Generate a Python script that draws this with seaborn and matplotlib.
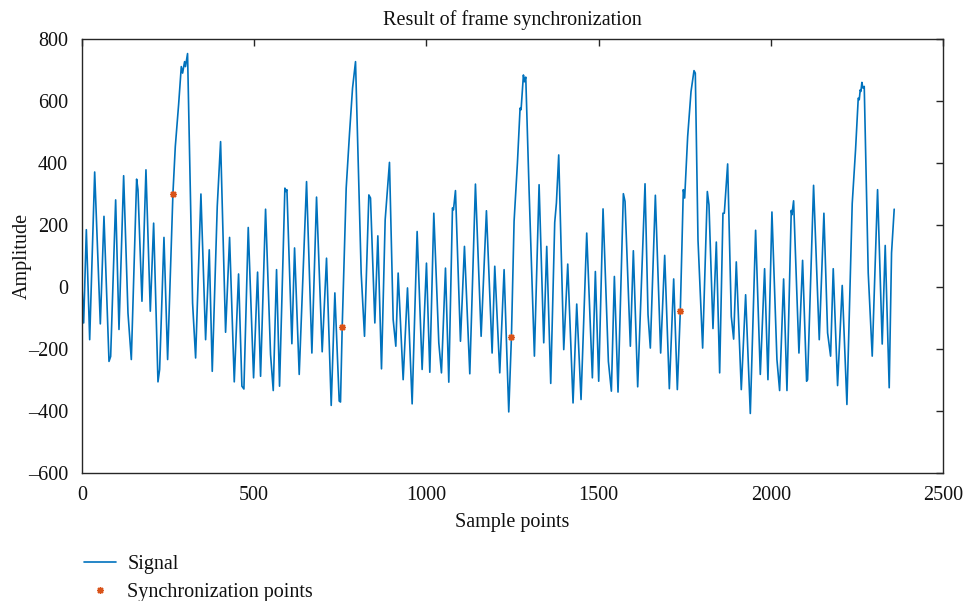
import matplotlib
matplotlib.use("Agg")
import matplotlib.pyplot as plt
import seaborn as sns
import pandas as pd

# ---- data (extrema and shoulders of the signal) ----
sig_x = [0, 4.8, 12.6, 22.3, 36.8, 53.2, 63.8, 78.4, 83.2, 97.7, 107.4, 120.9, 133.5, 143.2,
         158.6, 162.5, 174.1, 185.7, 198.3, 208, 220.6, 225.4, 238, 248.6, 264, 270.9, 280.5,
         288.3, 292.1, 297.9, 300.5, 306.5, 321.1, 329.9, 345.3, 358.9, 369.5, 378.2, 392.7,
         402.4, 416.9, 428.5, 442.1, 454.6, 464.3, 470.1, 482.7, 498.2, 509.8, 518.5, 533,
         547.5, 555.3, 564.9, 573.6, 589.1, 592, 595, 609.4, 617.2, 630.7, 652, 667.5, 681,
         697.4, 710, 723.6, 734.2, 746.8, 750.6, 755.5, 767.1, 776.8, 785.5, 794.2, 810.6,
         820.3, 832.9, 837.7, 850.3, 859, 869.6, 880.3, 892.8, 903.5, 911.2, 918, 932.5,
         945.1, 958.6, 973.1, 987.6, 1000.2, 1009.9, 1021.5, 1036, 1043.7, 1055.4, 1065,
         1075.7, 1078.6, 1084.4, 1098.9, 1110.5, 1126, 1142.4, 1158.9, 1174.3, 1190.8,
         1198.5, 1213, 1225.6, 1239.1, 1246.9, 1254.6, 1264.3, 1272, 1274.9, 1281.7, 1284.6,
         1288.5, 1298.1, 1313.6, 1327.2, 1340.7, 1349.4, 1361, 1372.6, 1377.5, 1384.2,
         1398.8, 1410.4, 1425.8, 1436.5, 1449, 1465.5, 1481.9, 1490.6, 1500.3, 1512.9,
         1528.4, 1537.1, 1545.8, 1556.4, 1571.9, 1576.7, 1592.2, 1600.9, 1613.5, 1634.8,
         1643.5, 1650.2, 1664.8, 1680.2, 1691.9, 1705.4, 1718, 1728.6, 1737.3, 1746, 1749.9,
         1758.6, 1768.3, 1777, 1780.8, 1788.6, 1802.1, 1815.7, 1820.5, 1832.1, 1841.8,
         1851.5, 1861.1, 1865, 1874.7, 1885.3, 1892.1, 1899.8, 1914.3, 1926.9, 1940.5,
         1955.9, 1969.5, 1982, 1991.7, 2003.3, 2017.8, 2025.6, 2037.2, 2046.9, 2059.4,
         2061.4, 2066.2, 2081.7, 2092.3, 2103.9, 2106.8, 2124.2, 2140.7, 2154.2, 2164.9,
         2173.6, 2181.3, 2193.9, 2207.4, 2221, 2236.4, 2246.1, 2253.9, 2256.8, 2259.7,
         2261.6, 2264.5, 2267.4, 2271.3, 2282.9, 2294.5, 2310, 2323.5, 2332.2, 2343.8,
         2350.6, 2358.3]
sig_y = [0, -116, 185, -170, 371, -119, 228, -240, -224, 281, -137, 359, -84, -234,
         348, 314, -46, 378, -78, 206, -306, -266, 160, -234, 301, 453, 588,
         711, 690, 727, 711, 753, -52, -229, 300, -170, 120, -272, 260,
         469, -146, 160, -306, 42, -320, -329, 192, -293, 48, -288, 251,
         -218, -334, 56, -320, 319, 308, 314, -183, 126, -282, 340, -213, 290,
         -209, 93, -382, -19, -368, -371, -130, 319, 496, 641, 727, 45,
         -159, 297, 287, -116, 165, -264, 217, 402, -105, -191, 45, -299,
         -3, -377, 179, -266, 77, -275, 238, -180, -277, 61, -307,
         255, 249, 311, -175, 131, -280, 332, -159, 246, -213,
         67, -277, 56, -403, -161, 212, 400, 577, 572, 684, 662,
         677, 314, -223, 330, -180, 131, -311, 208, 271, 426,
         -202, 74, -374, -55, -363, 174, -293, 50, -304, 252,
         -240, -336, 34, -339, 301, 276, -191, 117, -322, 333,
         -89, -197, 296, -213, 102, -328, 26, -331, -76, 314, 287,
         485, 630, 698, 690, 152, -197, 308, 265, -134, 145,
         -277, 238, 238, 397, -95, -168, 81, -331, -25, -408,
         183, -282, 59, -299, 242, -234, -334, 26, -334, 247,
         233, 278, -213, 86, -304, -299, 328, -170, 238, -148,
         -223, 59, -318, 5, -379, 269, 443, 609, 604, 636,
         631, 660, 642, 647, 45, -223, 314, -184, 134, -325,
         110, 251]

sync_x = [264, 755.5, 1247, 1737.3]
sync_y = [301, -130, -161, -76]

x_ticks = [0, 500, 1000, 1500, 2000, 2500]
y_ticks = [-600, -400, -200, 0, 200, 400, 600, 800]

title_text = "Result of frame synchronization"
x_label = "Sample points"
y_label = "Amplitude"
legend_labels = ["Signal", "Synchronization points"]

# ---- styling ----
sns.set_style("white")
plt.rcParams["font.family"] = ["Liberation Serif", "DejaVu Serif"]
plt.rcParams["axes.edgecolor"] = "#262626"
plt.rcParams["axes.linewidth"] = 1.0

sig_df = pd.DataFrame({"x": sig_x, "y": sig_y})
sync_df = pd.DataFrame({"x": sync_x, "y": sync_y})

fig = plt.figure(figsize=(9.66, 6.01), dpi=100)
ax = fig.add_axes([82 / 966, 1 - 473 / 601, (943 - 82) / 966, (473 - 39) / 601])

sns.lineplot(data=sig_df, x="x", y="y", ax=ax, color="#0072BD", linewidth=1.2,
             sort=False, estimator=None, label=legend_labels[0])
ax.plot(sync_df["x"], sync_df["y"], linestyle="none", marker=(8, 2, 0), color="#D95319",
        markersize=5, markeredgewidth=1.0, label=legend_labels[1])

ax.set_xlim(0, 2500)
ax.set_ylim(-600, 800)
ax.set_xticks(x_ticks)
ax.set_yticks(y_ticks)
ax.set_xticklabels([str(t) for t in x_ticks])
ax.set_yticklabels(["\u2013" + str(-t) if t < 0 else str(t) for t in y_ticks])
ax.tick_params(direction="in", length=5, width=1, top=True, right=True,
               labelsize=14.5, colors="#262626", labelcolor="#111111")
ax.tick_params(axis="y", pad=10)
ax.tick_params(axis="x", pad=9)
for s in ax.spines.values():
    s.set_visible(True)
    s.set_color("#262626")

ax.set_title(title_text, fontsize=14.5, color="#111111", pad=10)
ax.set_xlabel(x_label, fontsize=14.5, color="#111111", labelpad=6)
ax.set_ylabel(y_label, fontsize=14.5, color="#111111", labelpad=-3)

handles, labels = ax.get_legend_handles_labels()
if ax.legend_:
    ax.legend_.remove()
fig.legend(handles, labels, loc="upper left", bbox_to_anchor=(84 / 966, 1 - 555 / 601),
           frameon=False, fontsize=14.5, handlelength=1.6, handletextpad=0.55,
           labelspacing=0.45, borderpad=0, borderaxespad=0, labelcolor="#111111")

fig.savefig("out.png", dpi=100)
